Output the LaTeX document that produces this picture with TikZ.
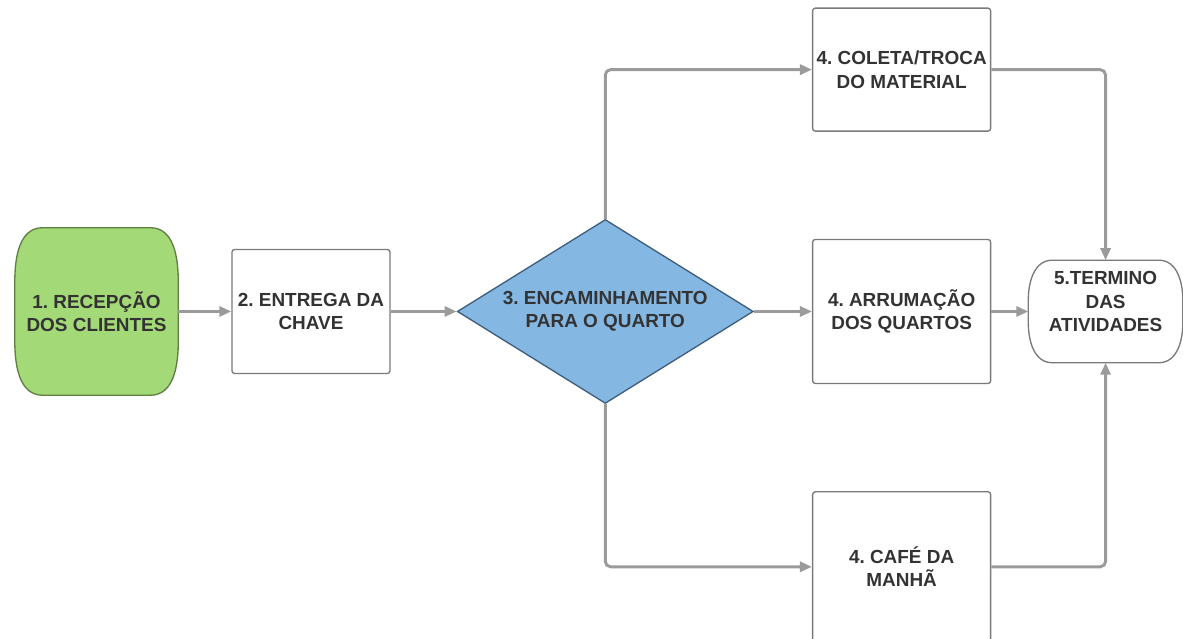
\documentclass[tikz,border=0pt]{standalone}
\usepackage{fontspec}
\setmainfont{Liberation Sans}
\usetikzlibrary{positioning, shapes.geometric, arrows.meta, backgrounds}

\definecolor{textogray}{HTML}{333333}
\definecolor{bordagray}{HTML}{7A7A7A}
\definecolor{setagray}{HTML}{9B9B9B}
\definecolor{verde}{HTML}{A3D977}
\definecolor{verdeborda}{HTML}{5F7F43}
\definecolor{azul}{HTML}{84B8E3}
\definecolor{azulborda}{HTML}{3F5E7C}

\begin{document}
\frenchspacing
\begin{tikzpicture}[font=\fontsize{14.2}{17.6}\selectfont\bfseries, text=textogray]
	\tikzstyle{etapa} = [rectangle, draw=bordagray, line width=1pt, fill=white, rounded corners=2pt, align=center, inner sep=2pt, minimum width=133.5pt]
	\tikzstyle{terminal} = [rectangle, align=center, inner sep=2pt]
	\tikzstyle{contorno} = [line width=1pt]
	\tikzstyle{decisao} = [diamond, aspect=1.6, draw=azulborda, fill=azul, line width=1pt, align=center, inner sep=0pt, minimum width=222pt, minimum height=138pt]
	\tikzstyle{fluxo} = [draw=setagray, line width=2.2pt, rounded corners=4pt, -{Triangle[length=9pt, width=7.5pt]}]

	\useasboundingbox (0,0) rectangle (887.25pt,-479.25pt);

	\node [terminal, minimum width=122.25pt, minimum height=125.25pt] (recepcao) at (72.4pt,-233.6pt) {1. RECEPÇÃO\\DOS CLIENTES};
	\node [etapa, minimum width=118.5pt, minimum height=93pt, right=39.75pt of recepcao] (chave) {2. ENTREGA DA\\CHAVE};
	\node [decisao, right=49.5pt of chave] (encaminha) {3. ENCAMINHAMENTO\\PARA O QUARTO};
	\node [etapa, minimum height=108pt, right=43.5pt of encaminha] (arrumacao) {4. ARRUMAÇÃO\\DOS QUARTOS};
	\node [etapa, minimum height=92.25pt, above=80.25pt of arrumacao] (coleta) {4. COLETA/TROCA\\DO MATERIAL};
	\node [etapa, minimum height=112.5pt, below=80.25pt of arrumacao] (cafe) {4. CAFÉ DA\\MANHÃ};
	\node [terminal, minimum width=115.5pt, minimum height=76.5pt, right=27.75pt of arrumacao] (termino) {5.TERMINO\\DAS\\ATIVIDADES\\[-2.6pt]\mbox{}};

	\begin{scope}[on background layer]
		\draw [contorno, fill=verde, draw=verdeborda] ([xshift=21pt]recepcao.north west) -- ([xshift=-21pt]recepcao.north east)
			to[out=0, in=90] ([yshift=-41pt]recepcao.north east) -- ([yshift=41pt]recepcao.south east)
			to[out=-90, in=0] ([xshift=-21pt]recepcao.south east) -- ([xshift=21pt]recepcao.south west)
			to[out=180, in=-90] ([yshift=41pt]recepcao.south west) -- ([yshift=-41pt]recepcao.north west)
			to[out=90, in=180] cycle;
		\draw [contorno, fill=white, draw=bordagray] ([xshift=18pt]termino.north west) -- ([xshift=-18pt]termino.north east)
			to[out=0, in=90] ([yshift=-30pt]termino.north east) -- ([yshift=30pt]termino.south east)
			to[out=-90, in=0] ([xshift=-18pt]termino.south east) -- ([xshift=18pt]termino.south west)
			to[out=180, in=-90] ([yshift=30pt]termino.south west) -- ([yshift=-30pt]termino.north west)
			to[out=90, in=180] cycle;
	\end{scope}

	\draw [fluxo] (recepcao) -- (chave);
	\draw [fluxo] (chave) -- (encaminha);
	\draw [fluxo] (encaminha) -- (arrumacao);
	\draw [fluxo] (encaminha.north) |- (coleta);
	\draw [fluxo] (encaminha.south) |- (cafe);
	\draw [fluxo] (coleta) -| (termino);
	\draw [fluxo] (arrumacao) -- (termino);
	\draw [fluxo] (cafe) -| (termino);
\end{tikzpicture}
\end{document}
